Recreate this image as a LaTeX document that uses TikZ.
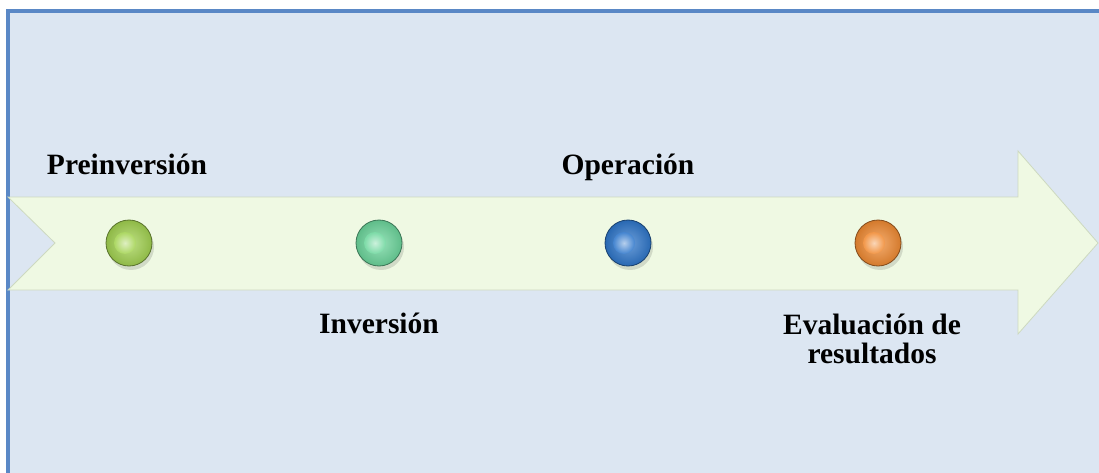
\documentclass[tikz,border=0pt]{standalone}
\usepackage{fontspec}
\setmainfont{Liberation Serif}
\definecolor{bgblue}{HTML}{DCE6F2}
\definecolor{frameblue}{HTML}{5A88C6}
\definecolor{arrowfill}{HTML}{EFF9E3}
\definecolor{arrowedge}{HTML}{CDD9C0}
\definecolor{beadA}{HTML}{A2D250}
\definecolor{beadB}{HTML}{6CD69C}
\definecolor{beadC}{HTML}{2E76CA}
\definecolor{beadD}{HTML}{F08A32}
\tikzset{
  bead/.style={circle, minimum size=46pt, inner sep=0pt,
    draw=#1!55!black, line width=0.8pt,
    inner color=#1!70!white, outer color=#1!88!black},
  beadcore/.style={circle, minimum size=22pt, inner sep=0pt,
    inner color=#1!35!white, outer color=#1!90!white},
  beadshadow/.style={circle, minimum size=46pt, inner sep=0pt,
    fill=black, opacity=0.12},
  stage/.style={font=\fontsize{29.5}{30}\selectfont\bfseries, inner sep=0pt, align=center}
}
\begin{document}
\begin{tikzpicture}[x=1pt,y=-1pt]
\useasboundingbox (0,0) rectangle (1099,473);
% background panel
\fill[bgblue] (8,11) rectangle (1099,473);
\draw[frameblue, line width=3.2pt] (8,473) -- (8,11) -- (1099,11);
% big arrow
\filldraw[fill=arrowfill, draw=arrowedge, line width=0.8pt]
  (8,197) -- (1018,197) -- (1018,151) -- (1098,243) -- (1018,334)
  -- (1018,290) -- (8,290) -- (55,243) -- cycle;
% beads
\foreach \x/\c/\n in {129/beadA/c1, 379/beadB/c2, 628/beadC/c3, 878/beadD/c4}{
  \node[beadshadow] at (\x+2,247) {};
  \node[bead=\c] (\n) at (\x,243) {};
  \node[beadcore=\c] (\n core) at (\x-4,243) {};
}
% labels
\node[stage, anchor=base] (pre) at (127,175) {Preinversión};
\node[stage, anchor=base] (inv) at (379,333) {Inversión};
\node[stage, anchor=base] (ope) at (628,175) {Operación};
\node[stage, anchor=base] (eva) at (872,334) {Evaluación de};
\node[stage, anchor=base] (res) at (872,363) {resultados};
\end{tikzpicture}
\end{document}
